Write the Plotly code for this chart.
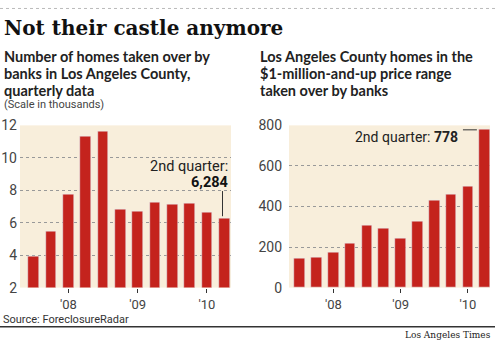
import plotly.graph_objects as go

quarters = ["Q3 2007", "Q4 2007", "Q1 2008", "Q2 2008", "Q3 2008", "Q4 2008",
            "Q1 2009", "Q2 2009", "Q3 2009", "Q4 2009", "Q1 2010", "Q2 2010"]
homes_thousands = [3.90, 5.45, 7.73, 11.35, 11.60, 6.82, 6.67, 7.27, 7.14, 7.18, 6.61, 6.284]
million_homes = [143, 148, 173, 220, 305, 294, 244, 329, 430, 461, 499, 778]
year_tick_pos = [2, 6, 10]
year_tick_text = ["'08", "'09", "'10"]
left_y_ticks = [2, 4, 6, 8, 10, 12]
right_y_ticks = [0, 200, 400, 600, 800]
left_subtitle = ["Number of homes taken over by", "banks in Los Angeles County,", "quarterly data"]
right_subtitle = ["Los Angeles County homes in the", "$1-million-and-up price range", "taken over by banks"]

BAR = "#c4231d"
BG = "#f8eedb"
W, H = 495, 350

def px(xp):
    return xp / W

def py(yp):
    return 1 - yp / H

xpos = list(range(len(quarters)))

fig = go.Figure()
fig.add_trace(go.Bar(x=xpos, y=homes_thousands, marker_color=BAR, width=0.62,
                     xaxis="x", yaxis="y", hovertext=quarters, base=0))
fig.add_trace(go.Bar(x=xpos, y=million_homes, marker_color=BAR, width=0.63,
                     xaxis="x2", yaxis="y2", hovertext=quarters))

tickfont = dict(family="Roboto, sans-serif", size=14, color="#444")
xtickfont = dict(family="Roboto, sans-serif", size=13, color="#444")
ydom = [py(293), py(123)]

fig.update_layout(
    width=W, height=H, margin=dict(l=0, r=0, t=0, b=0),
    paper_bgcolor="white", plot_bgcolor=BG, showlegend=False, bargap=0,
    xaxis=dict(domain=[px(20), px(231)], range=[-0.79, 11.39],
               tickvals=year_tick_pos, ticktext=year_tick_text, ticks="outside",
               ticklen=4, tickcolor="#333", tickfont=xtickfont, showgrid=False,
               zeroline=False, showline=False, anchor="y", ticklabelstandoff=1),
    yaxis=dict(domain=ydom, range=[2, 12], tickvals=left_y_ticks, tickfont=tickfont,
               showgrid=True, gridcolor="#999", griddash="dot", gridwidth=1,
               zeroline=False, showline=False, ticks="", ticklabelstandoff=2, anchor="x"),
    xaxis2=dict(domain=[px(289), px(490)], range=[-0.64, 11.32],
                tickvals=year_tick_pos, ticktext=year_tick_text, ticks="outside",
                ticklen=4, tickcolor="#333", tickfont=xtickfont, showgrid=False,
                zeroline=False, showline=False, anchor="y2", ticklabelstandoff=1),
    yaxis2=dict(domain=ydom, range=[0, 800], tickvals=right_y_ticks, tickfont=tickfont,
                showgrid=True, gridcolor="#999", griddash="dot", gridwidth=1,
                zeroline=False, showline=False, ticks="", ticklabelstandoff=6, anchor="x2"),
)

sub_font = dict(family="Lato, sans-serif", size=14.5, color="#222", weight="bold")
annos = [
    dict(text="<b>Not their castle anymore</b>", x=px(2), y=py(21), xanchor="left",
         yanchor="middle", font=dict(family="DejaVu Serif, serif", size=20, color="#111")),
    dict(text="(Scale in thousands)", x=px(2), y=py(101), xanchor="left", yanchor="middle",
         font=dict(family="Roboto, sans-serif", size=11, color="#444")),
    dict(text="Source: ForeclosureRadar", x=px(1), y=py(326), xanchor="left", yanchor="middle",
         font=dict(family="Roboto, sans-serif", size=11, color="#333")),
    dict(text="Los Angeles Times", x=px(493), y=py(343), xanchor="right", yanchor="middle",
         font=dict(family="DejaVu Serif, serif", size=9, color="#222")),
]
for i, line in enumerate(left_subtitle):
    annos.append(dict(text=line, x=px(2), y=py(51 + 17.5 * i), xanchor="left",
                      yanchor="middle", font=sub_font))
for i, line in enumerate(right_subtitle):
    annos.append(dict(text=line, x=px(258), y=py(51 + 17.5 * i), xanchor="left",
                      yanchor="middle", font=sub_font))
for a in annos:
    a.update(xref="paper", yref="paper", showarrow=False)
    fig.add_annotation(**a)

fig.add_annotation(text="2nd quarter:", x=11.35, y=9.45, xref="x", yref="y",
                   xanchor="right", yanchor="middle", showarrow=False,
                   font=dict(family="Roboto, sans-serif", size=14.5, color="#222"))
fig.add_annotation(text="<b>6,284</b>", x=11.35, y=8.45, xref="x", yref="y",
                   xanchor="right", yanchor="middle", showarrow=False,
                   font=dict(family="Roboto, sans-serif", size=14.5, color="#111"))
fig.add_annotation(text="2nd quarter: <b>778</b>", x=9.53, y=745, xref="x2", yref="y2",
                   xanchor="right", yanchor="middle", showarrow=False,
                   font=dict(family="Roboto, sans-serif", size=14, color="#222"))

fig.add_shape(type="line", xref="x", yref="y", x0=10.9, x1=10.9, y0=6.4, y1=7.95,
              line=dict(color="#333", width=1))
fig.add_shape(type="line", xref="x2", yref="y2", x0=9.71, x1=10.54, y0=778, y1=778,
              line=dict(color="#333", width=1))
fig.add_shape(type="line", xref="paper", yref="paper", x0=0, x1=1, y0=py(334), y1=py(334),
              line=dict(color="#333", width=1.5))
fig.add_shape(type="line", xref="paper", yref="paper", x0=0, x1=1, y0=py(0.5), y1=py(0.5),
              line=dict(color="#bbb", width=1, dash="dot"))

fig.write_html("out.html")
